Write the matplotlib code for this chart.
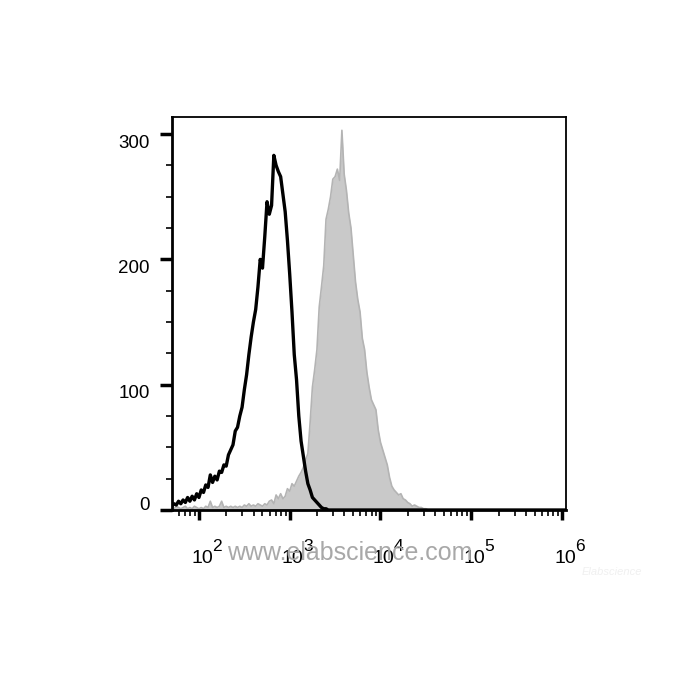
import numpy as np
from matplotlib import pyplot as plt
import matplotlib.transforms as mtrans
from matplotlib.ticker import LogLocator, MultipleLocator, NullFormatter

plt.rcParams['font.family'] = ['Liberation Sans', 'DejaVu Sans']

# log10 bin positions, step 0.025 from 1.70
log_start = 1.70
log_step = 0.025

# control (black line)
black = [3, 5, 4, 7, 5, 8, 6, 10, 7, 11, 8, 13, 10, 16, 14, 20, 18, 28, 22, 27,
         24, 31, 30, 36, 35, 44, 48, 52, 63, 66, 75, 82, 96, 108, 124, 138, 150, 160, 178, 200,
         193, 218, 246, 236, 243, 283, 275, 270, 266, 252, 238, 215, 188, 158, 124, 104, 75, 55, 43, 31,
         21, 16, 10, 8, 6, 4, 2, 1, 1, 0]

# stained sample (gray fill)
gray = [2, 1, 3, 2, 1, 2, 3, 1, 2, 1, 3, 2, 1, 2, 1, 3, 2, 7, 2, 3,
        2, 3, 7, 2, 3, 2, 3, 2, 3, 2, 3, 2, 4, 3, 5, 3, 4, 3, 5, 4,
        3, 5, 4, 7, 8, 5, 12, 9, 13, 9, 11, 17, 15, 21, 19, 23, 27, 30, 34, 40,
        45, 70, 98, 112, 128, 162, 178, 195, 232, 240, 250, 264, 266, 272, 263, 303, 268, 255, 237, 225,
        203, 182, 168, 158, 137, 128, 110, 98, 88, 84, 80, 64, 54, 48, 42, 36, 26, 19, 16, 14,
        12, 13, 9, 8, 6, 5, 3, 4, 3, 2, 2, 1, 1, 0]

xticks = [1e2, 1e3, 1e4, 1e5, 1e6]
xexp = ['2', '3', '4', '5', '6']
yticks = [0, 100, 200, 300]

n = 176
logx = log_start + log_step * np.arange(n)
x = 10 ** logx
b = np.zeros(n)
b[:len(black)] = black
g = np.zeros(n)
g[:len(gray)] = gray

fig = plt.figure(figsize=(7, 7), dpi=100)
ax = fig.add_axes([172/700, 1-510/700, 394/700, 393/700])

ax.fill_between(x, g, 0, color='#c9c9c9', lw=0, zorder=1)
ax.plot(x, g, color='#b4b4b4', lw=1.2, zorder=2)
ax.plot(x, b, color='black', lw=2.4, zorder=3)

ax.set_xscale('log')
ax.set_xlim(10 ** 1.703, 10 ** 6.044)
ax.set_ylim(0, 313.6)

ax.set_xticks(xticks)
ax.set_xticklabels([])
ax.xaxis.set_minor_locator(LogLocator(base=10, subs=np.arange(2, 10), numticks=20))
ax.xaxis.set_minor_formatter(NullFormatter())
ax.set_yticks(yticks)
ax.set_yticklabels([str(v) for v in yticks])
ax.yaxis.set_minor_locator(MultipleLocator(25))

for s in ax.spines.values():
    s.set_linewidth(1.3)
ax.spines['bottom'].set_linewidth(2)
ax.spines['left'].set_linewidth(2)

ax.tick_params(axis='x', which='major', direction='out', length=7, width=2.5)
ax.tick_params(axis='x', which='minor', direction='out', length=4, width=1.2)
ax.tick_params(axis='y', which='major', direction='out', length=9, width=2.5, labelsize=13.5, pad=7)
ax.tick_params(axis='y', which='minor', direction='out', length=4, width=1.2)

# y labels sit a bit off their ticks in the original
for v, lab in zip(yticks, ax.get_yticklabels()):
    dy = 7 if v == 0 else -7
    lab.set_transform(lab.get_transform() + mtrans.ScaledTranslation(0, dy/100, fig.dpi_scale_trans))

# x labels: 10 with raised exponent
tr = mtrans.blended_transform_factory(ax.transData, ax.transAxes)
for t, e in zip(xticks, xexp):
    ax.text(t, -53/393, '10', transform=tr + mtrans.ScaledTranslation(3/100, 0, fig.dpi_scale_trans),
            ha='center', va='baseline', fontsize=14, clip_on=False)
    ax.text(t, -41/393, e, transform=tr + mtrans.ScaledTranslation(13.5/100, 0, fig.dpi_scale_trans),
            ha='left', va='baseline', fontsize=12.5, clip_on=False)

fig.text(350/700, 1-553/700, 'www.elabscience.com', color='#a8a8a8', fontsize=18,
         ha='center', va='center', zorder=0)
fig.text(612/700, 1-572/700, 'Elabscience', color='#f0f0f0', fontsize=8,
         ha='center', va='center', style='italic')

fig.savefig('out.png', dpi=100)
